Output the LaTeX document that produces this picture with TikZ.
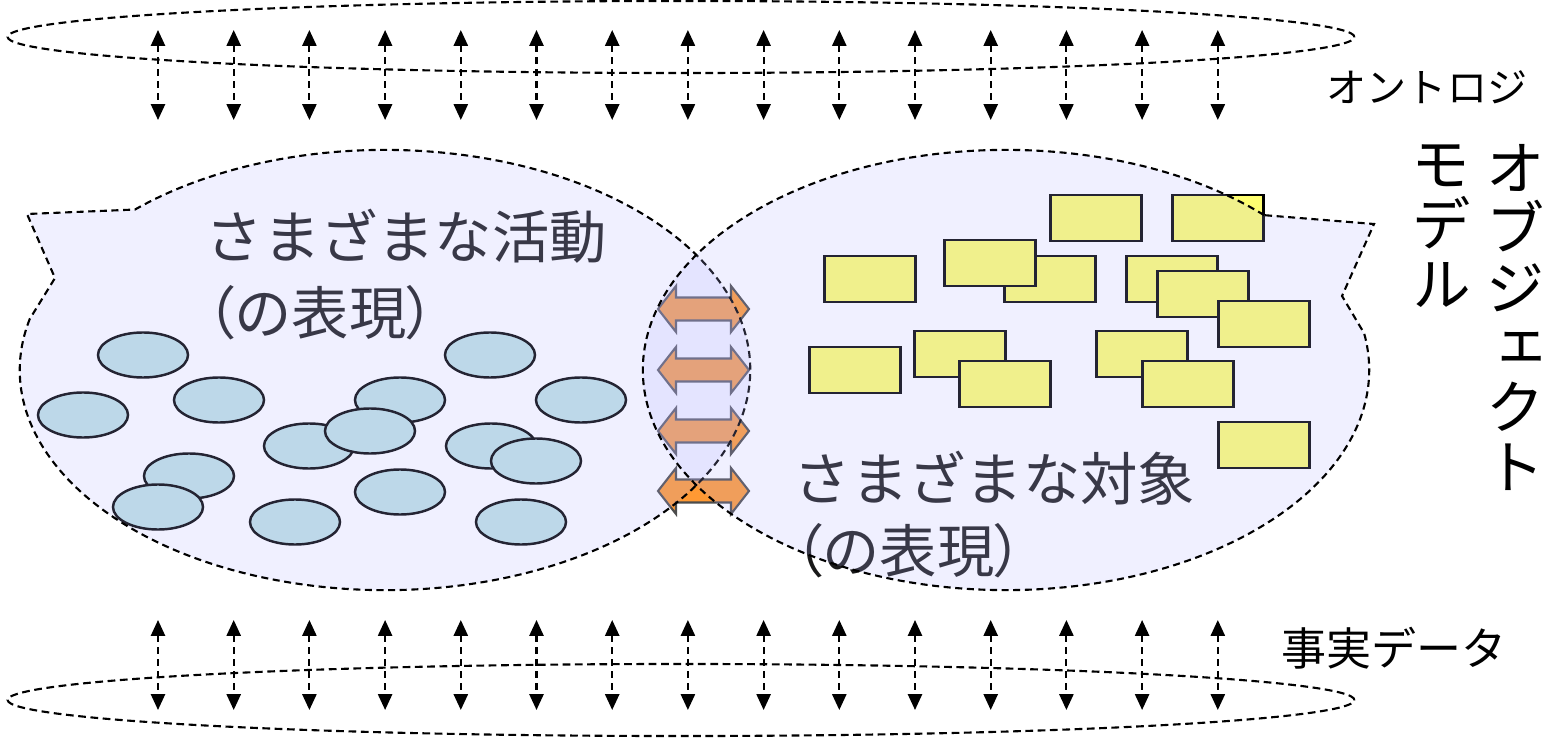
\documentclass[tikz,border=0pt]{standalone}
\usepackage{fontspec}
\usepackage{tikz}
\usetikzlibrary{shapes.geometric, arrows.meta}
\usetikzlibrary{positioning}
\newfontfamily\jp{Noto Sans CJK JP}
\newfontfamily\jpp[RawFeature=+palt]{Noto Sans CJK JP}
\newfontfamily\jpv[RawFeature=+vert]{Noto Sans CJK JP}
\definecolor{lav}{RGB}{180,180,255}
\definecolor{actfill}{RGB}{192,226,228}
\definecolor{objfill}{RGB}{255,255,112}
\definecolor{linkfill}{RGB}{255,153,51}
\tikzstyle{act} = [ellipse, draw=black, line width=0.7pt, fill=actfill, minimum width=0.9cm, minimum height=0.45cm, inner sep=0pt]
\tikzstyle{obj} = [rectangle, draw=black, line width=0.7pt, fill=objfill, minimum width=0.91cm, minimum height=0.46cm, inner sep=0pt]
\tikzstyle{bubble} = [draw=black, line width=0.6pt, dash pattern=on 2pt off 1.3pt, fill=lav, fill opacity=0.2]
\tikzstyle{layer} = [draw=black, line width=0.6pt, dash pattern=on 2.2pt off 1.3pt]
\tikzstyle{vlink} = [line width=0.6pt, dash pattern=on 2pt off 1.4pt, {Triangle[width=4pt,length=4.5pt]}-{Triangle[width=4pt,length=4.5pt]}]
\tikzstyle{dblarrow} = [draw=black!70, line width=0.6pt, fill=linkfill]
\tikzstyle{biglabel} = [font=\jp\fontsize{16.3}{21.6}\selectfont, text=black!90, inner sep=0pt, anchor=base west]
\tikzstyle{vlabel} = [font=\jpv\fontsize{17}{17}\selectfont, align=center, anchor=north, inner sep=0pt]

\begin{document}
\begin{tikzpicture}[x=0.01cm, y=0.01cm]
    \useasboundingbox (0,0) rectangle (1561,-740);

    %% objects (right)
    \foreach \n/\cx/\cy in {1/1096/218, 2/1218/218, 3/870/279, 4/1050/279, 5/990/263, 6/1172/279, 7/1203/294, 8/1264/324, 9/855/370, 10/960/354, 11/1005/384, 12/1142/354, 13/1188/384, 14/1264/445}
        \node[obj] (obj\n) at (\cx,-\cy) {};

    %% activities (left)
    \foreach \n/\cx/\cy in {1/143/355, 2/83/415, 3/219/400, 4/400/400, 5/490/355, 6/581/400, 7/309/446, 8/370/431, 9/491/446, 10/536/461, 11/189/476, 12/158/507, 13/400/492, 14/295/522, 15/521/522}
        \node[act] (act\n) at (\cx,-\cy) {};

    %% links between the two
    \foreach \yy in {309,370,431,491}
        \draw[dblarrow, shift={(703.5,-\yy)}] (-45.5,0) -- (-27.5,23) -- (-27.5,11.5) -- (27.5,11.5) -- (27.5,23) -- (45.5,0) -- (27.5,-23) -- (27.5,-11.5) -- (-27.5,-11.5) -- (-27.5,-23) -- cycle;

    \node[biglabel] (acttitle) at (205,-259) {さまざまな活動};
    \node[biglabel] (actsub) at (205,-335) {{\jpp （}の表現{\jpp ）}};
    \node[biglabel] (objtitle) at (793,-500) {さまざまな対象};
    \node[biglabel] (objsub) at (793,-572) {{\jpp （}の表現{\jpp ）}};

    %% the two bubbles
    \coordinate (actc) at (385,-370);
    \coordinate (objc) at (1006,-370);
    \draw[bubble] (actc) ++(166.6:3.65cm and 2.2cm) arc[start angle=166.6, end angle=493.2, x radius=3.65cm, y radius=2.2cm] -- (27,-214) -- (55,-278) -- cycle;
    \draw[bubble] (objc) ++(44.7:3.63cm and 2.2cm) arc[start angle=44.7, end angle=369.6, x radius=3.63cm, y radius=2.2cm] -- (1342,-296) -- (1374,-224) -- cycle;

    %% ontology and fact data layers
    \draw[layer] (681,-37) ellipse [x radius=6.73cm, y radius=0.36cm];
    \draw[layer] (681,-700) ellipse [x radius=6.73cm, y radius=0.36cm];
    \foreach \i in {0,...,14} {
        \draw[vlink] ({158+75.7*\i},-30) -- ({158+75.7*\i},-120);
        \draw[vlink] ({158+75.7*\i},-620) -- ({158+75.7*\i},-710);
    }

    \node[font=\jp\fontsize{11.4}{13}\selectfont, inner sep=0pt] (onto) at (1427,-87) {オントロジ};
    \node[font=\jp\fontsize{12.8}{15}\selectfont, inner sep=0pt] (facts) at (1394,-648) {事実データ};
    \node[vlabel] (objmodel) at (1515,-144) {オ\\ブ\\ジ\\ェ\\ク\\ト};
    \node[vlabel] (model) at (1441,-144) {モ\\デ\\ル};
\end{tikzpicture}
\end{document}
